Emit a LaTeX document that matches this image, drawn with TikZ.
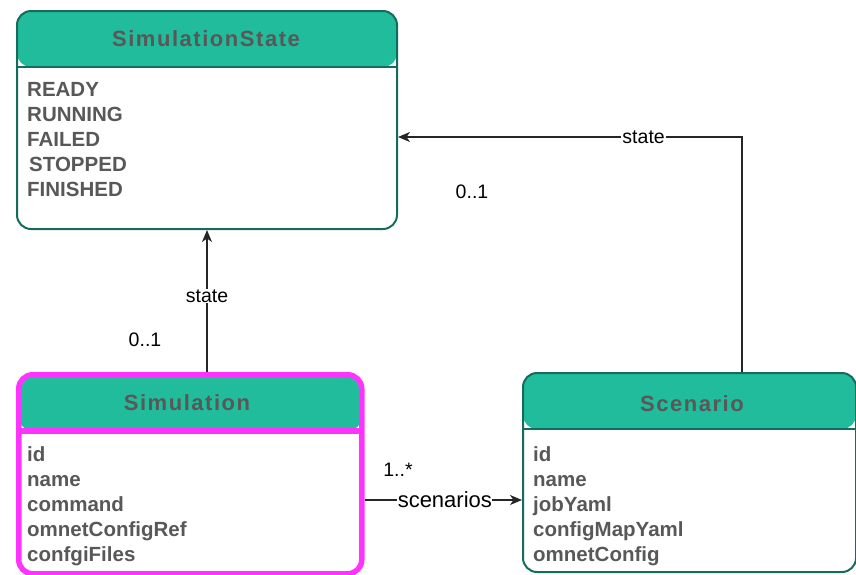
\documentclass[tikz,border=0pt]{standalone}
\usepackage{fontspec}
\setmainfont{Liberation Sans}
\newfontfamily\titlefont[LetterSpace=7]{Liberation Sans}
\usetikzlibrary{arrows.meta}

\definecolor{headfill}{RGB}{32,188,156}
\definecolor{tealline}{RGB}{22,108,92}
\definecolor{hotpink}{RGB}{255,51,255}
\definecolor{bodytext}{RGB}{88,88,88}

\tikzset{
  classbox/.style 2 args={rectangle, rounded corners=14pt, draw=#1, line width=#2,
    fill=white, inner sep=0pt, anchor=north west,
    path picture={
      \fill[headfill] (path picture bounding box.north west)
        rectangle ([yshift=-56pt]path picture bounding box.north east);
      \draw[#1, line width=#2] ([yshift=-56pt]path picture bounding box.north west)
        -- ([yshift=-56pt]path picture bounding box.north east);
    }},
  titletext/.style={inner sep=0pt, text=bodytext, font=\titlefont\bfseries\fontsize{22}{26}\selectfont},
  attrs/.style={inner sep=0pt, anchor=north west, align=left, text=bodytext,
    font=\bfseries\fontsize{20.5}{25}\selectfont},
  conn/.style={draw=black!85, line width=1.3pt},
  arrowconn/.style={conn, -{Stealth[length=12pt, width=10pt, inset=3.5pt]}},
  lbl/.style={inner sep=1pt, fill=white, font=\fontsize{19.5}{22}\selectfont},
  mult/.style={inner sep=0pt, font=\fontsize{19.5}{22}\selectfont},
}

\begin{document}
\begin{tikzpicture}[x=1pt, y=-1pt]
  \useasboundingbox (0,0) rectangle (856,574);

  % class boxes
  \node[classbox={tealline}{2pt}, minimum width=380pt, minimum height=218pt] (state) at (16,10) {};
  \node[classbox={hotpink}{5.5pt}, minimum width=343pt, minimum height=199pt] (sim) at (16,372) {};
  \node[classbox={tealline}{2pt}, minimum width=333pt, minimum height=199pt] (scen) at (522,372) {};

  % headers
  \node[titletext] (stateT) at (206,39) {SimulationState};
  \node[titletext] (simT) at (187,403) {Simulation};
  \node[titletext] (scenT) at (692,404) {Scenario};

  % attributes
  \node[attrs] (stateA) at (27,82) {READY\\RUNNING\\FAILED\\\hspace{2pt}STOPPED\\FINISHED};
  \node[attrs] (simA) at (27,446) {id\\name\\command\\omnetConfigRef\\confgiFiles};
  \node[attrs] (scenA) at (533,446) {id\\name\\jobYaml\\configMapYaml\\omnetConfig};

  % Simulation -> SimulationState
  \draw[arrowconn] (sim.north -| state.south) -- node[lbl, pos=0.535] (lblA) {state} (state.south);
  \node[mult] (multA) at (145,340) {0..1};

  % Scenario -> SimulationState
  \coordinate (bend) at (742,137);
  \draw[arrowconn] (scen.north -| bend) -- (bend) -- node[lbl, pos=0.286] (lblB) {state} (bend -| state.east);
  \node[mult] (multB) at (472,192) {0..1};

  % Simulation -> Scenario
  \coordinate (mid) at (440,500);
  \draw[arrowconn] (sim.east |- mid) -- node[lbl, pos=0.51, font=\fontsize{22}{24}\selectfont, inner sep=0.5pt] (lblC) {scenarios} (scen.west |- mid);
  \node[mult] (multC) at (398,470) {1..*};
\end{tikzpicture}
\end{document}
